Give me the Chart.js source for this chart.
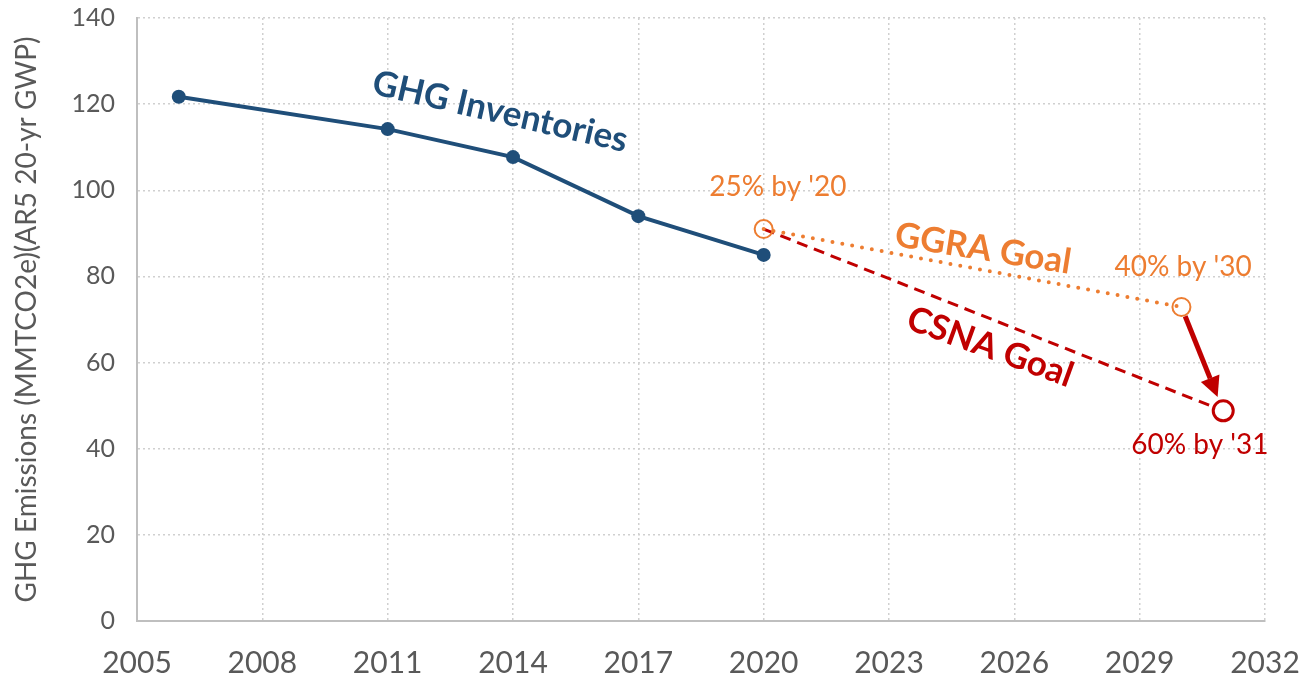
<!DOCTYPE html>
<html><head><meta charset="utf-8">
<script src="https://cdn.jsdelivr.net/npm/chart.js@4/dist/chart.umd.min.js"></script>
<style>html,body{margin:0;padding:0;background:#fff}#wrap{width:1301px;height:678px}</style>
</head><body><div id="wrap"><canvas id="c" width="1301" height="678"></canvas></div>
<script>
const inventoryYears = [2006, 2011, 2014, 2017, 2020];
const inventoryValues = [121.7, 114.2, 107.7, 94.0, 85.0];
const ggraYears = [2020, 2030];
const ggraValues = [91.0, 72.9];
const csnaYears = [2020, 2031];
const csnaValues = [91.0, 48.8];
const xTicks = [2005, 2008, 2011, 2014, 2017, 2020, 2023, 2026, 2029, 2032];
const yTicks = [0, 20, 40, 60, 80, 100, 120, 140];
const yTitle = 'GHG Emissions (MMTCO2e)(AR5 20-yr GWP)';

const NAVY = '#1f4e79', ORANGE = '#ed7d31', RED = '#c00000';
const FONT = 'Lato, "Open Sans", sans-serif';

const labels = [
  {text: 'GHG Inventories', x: 2013.69, y: 118.2, rot: 13, color: NAVY, font: 'bold 35px ' + FONT},
  {text: "25% by '20", x: 2020.34, y: 100.8, rot: 0, color: ORANGE, font: '28px ' + FONT},
  {text: 'GGRA Goal', x: 2025.25, y: 86.4, rot: 9, color: ORANGE, font: 'bold 35px ' + FONT},
  {text: "40% by '30", x: 2030.04, y: 82.2, rot: 0, color: ORANGE, font: '28px ' + FONT},
  {text: 'CSNA Goal', x: 2025.42, y: 63.6, rot: 20, color: RED, font: 'bold 35px ' + FONT},
  {text: "60% by '31", x: 2030.44, y: 40.9, rot: 0, color: RED, font: '28px ' + FONT}
];

const annot = {
  id: 'annot',
  afterDatasetsDraw(chart) {
    const {ctx, scales: {x, y}} = chart;
    ctx.save();
    const x1 = x.getPixelForValue(ggraYears[1]), y1 = y.getPixelForValue(ggraValues[1]);
    const x2 = x.getPixelForValue(csnaYears[1]), y2 = y.getPixelForValue(csnaValues[1]);
    const ang = Math.atan2(y2 - y1, x2 - x1);
    const sx = x1 + Math.cos(ang) * 10, sy = y1 + Math.sin(ang) * 10;
    const ex = x2 - Math.cos(ang) * 15, ey = y2 - Math.sin(ang) * 15;
    const head = 20, hw = 10;
    const bx = ex - Math.cos(ang) * head, by = ey - Math.sin(ang) * head;
    ctx.strokeStyle = RED; ctx.fillStyle = RED; ctx.lineWidth = 5; ctx.lineCap = 'butt';
    ctx.beginPath(); ctx.moveTo(sx, sy); ctx.lineTo(bx, by); ctx.stroke();
    ctx.beginPath();
    ctx.moveTo(ex, ey);
    ctx.lineTo(bx + Math.cos(ang + Math.PI / 2) * hw, by + Math.sin(ang + Math.PI / 2) * hw);
    ctx.lineTo(bx - Math.cos(ang + Math.PI / 2) * hw, by - Math.sin(ang + Math.PI / 2) * hw);
    ctx.closePath(); ctx.fill();
    ctx.textAlign = 'center'; ctx.textBaseline = 'middle';
    for (const l of labels) {
      ctx.save();
      ctx.translate(x.getPixelForValue(l.x), y.getPixelForValue(l.y));
      ctx.rotate(l.rot * Math.PI / 180);
      ctx.font = l.font; ctx.fillStyle = l.color;
      ctx.fillText(l.text, 0, 0);
      ctx.restore();
    }
    ctx.restore();
  }
};

const toXY = (xs, ys) => xs.map((v, i) => ({x: v, y: ys[i]}));

new Chart(document.getElementById('c'), {
  type: 'line',
  data: {
    datasets: [
      {label: 'GHG Inventories', data: toXY(inventoryYears, inventoryValues), borderColor: NAVY, backgroundColor: NAVY,
       borderWidth: 4, pointRadius: 7, pointBackgroundColor: NAVY, pointBorderWidth: 0, tension: 0, order: 1},
      {label: 'GGRA Goal', data: toXY(ggraYears, ggraValues), borderColor: ORANGE, borderWidth: 4,
       borderDash: [0, 10], borderCapStyle: 'round', pointRadius: 9, pointBorderWidth: 2,
       pointBackgroundColor: 'rgba(255,255,255,0)', pointBorderColor: ORANGE, tension: 0, order: 2},
      {label: 'CSNA Goal', data: toXY(csnaYears, csnaValues), borderColor: RED, borderWidth: 3,
       borderDash: [11, 7], pointRadius: [0, 10], pointBorderWidth: 3,
       pointBackgroundColor: '#fff', pointBorderColor: RED, tension: 0, order: 3}
    ]
  },
  options: {
    responsive: false, animation: false, devicePixelRatio: 1,
    layout: {padding: {top: 18, right: 36, left: 0, bottom: 0}},
    plugins: {legend: {display: false}, tooltip: {enabled: false}},
    scales: {
      x: {
        type: 'linear', min: 2005, max: 2032,
        afterBuildTicks: s => { s.ticks = xTicks.map(v => ({value: v})); },
        afterFit: s => { s.height = 57; s.paddingLeft = 0; s.paddingRight = 0; },
        ticks: {color: '#595959', font: {family: FONT, size: 30}, padding: 24, callback: v => String(v), maxRotation: 0, autoSkip: false},
        grid: {color: '#d0d0d0', lineWidth: 1.5, drawTicks: false},
        border: {color: '#bfbfbf', width: 2, dash: [2, 3]}
      },
      y: {
        min: 0, max: 140,
        afterBuildTicks: s => { s.ticks = yTicks.map(v => ({value: v})); },
        afterFit: s => { s.width = 137; s.paddingTop = 0; s.paddingBottom = 0; },
        ticks: {color: '#595959', font: {family: FONT, size: 25}, padding: 22},
        grid: {color: '#d0d0d0', lineWidth: 1.5, drawTicks: false},
        border: {color: '#bfbfbf', width: 2, dash: [2, 3]},
        title: {display: true, text: yTitle, color: '#595959', font: {family: FONT, size: 28}, padding: {top: 10, bottom: 0}}
      }
    }
  },
  plugins: [annot]
});
</script></body></html>
